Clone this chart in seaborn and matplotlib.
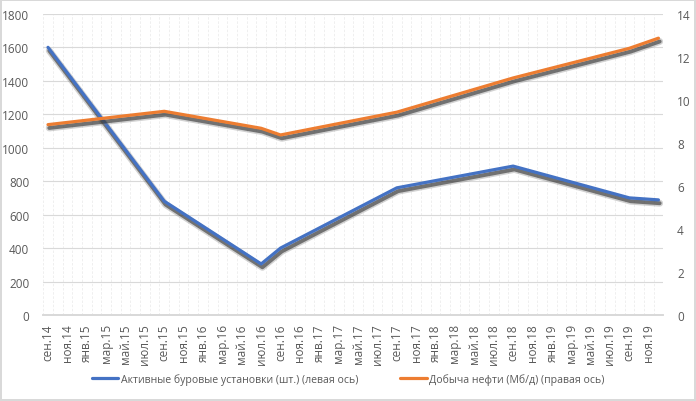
import matplotlib
matplotlib.use("Agg")
import matplotlib.pyplot as plt
import matplotlib.patheffects as pe
import pandas as pd
import seaborn as sns

month_names = ["янв", "фев", "мар", "апр", "май", "июн",
               "июл", "авг", "сен", "окт", "ноя", "дек"]
years = ["14", "15", "16", "17", "18", "19"]
# monthly categories from Sep 2014 to Dec 2019
months = [f"{m}.{y}" for y in years for m in month_names][8:]

rigs_months = ["сен.14", "сен.15", "июл.16", "сен.16", "сен.17", "сен.18", "сен.19", "дек.19"]
rigs = [1600, 680, 305, 400, 760, 890, 700, 688]

oil_months = ["сен.14", "сен.15", "июл.16", "сен.16", "сен.17", "сен.18", "сен.19", "дек.19"]
oil = [8.85, 9.47, 8.68, 8.37, 9.43, 11.02, 12.40, 12.87]

rigs_label = "Активные буровые установки (шт.) (левая ось)"
oil_label = "Добыча нефти (Мб/д) (правая ось)"

BLUE = "#4472C4"
ORANGE = "#ED7D31"
TEXT = "#595959"
GRID = "#d9d9d9"

sns.set_theme(style="white")
plt.rcParams["font.family"] = ["Open Sans", "DejaVu Sans"]

rigs_df = pd.DataFrame({"x": [months.index(m) for m in rigs_months], "y": rigs})
oil_df = pd.DataFrame({"x": [months.index(m) for m in oil_months], "y": oil})

fig = plt.figure(figsize=(6.96, 4.02), dpi=100)
fig.patch.set_edgecolor(GRID)
fig.patch.set_linewidth(1.5)
ax = fig.add_axes([0.062, 0.214, 0.891, 0.749])
ax2 = ax.twinx()

# soft grey drop shadow like the Excel original
shadow = [pe.SimpleLineShadow(offset=(0.9, -2.4), shadow_color="#808080", alpha=0.35, linewidth=5),
          pe.SimpleLineShadow(offset=(0.9, -2.4), shadow_color="#303030", alpha=0.6, linewidth=2.8),
          pe.Normal()]

sns.lineplot(data=rigs_df, x="x", y="y", ax=ax, color=BLUE, linewidth=2.3,
             label=rigs_label, legend=False, path_effects=shadow)
sns.lineplot(data=oil_df, x="x", y="y", ax=ax2, color=ORANGE, linewidth=2.3,
             label=oil_label, legend=False, path_effects=shadow)

n = len(months)
ax.set_xlim(-0.5, n - 0.5)
ax.set_ylim(0, 1800)
ax2.set_ylim(0, 14)
ax.set_yticks(range(0, 1801, 200))
ax2.set_yticks(range(0, 15, 2))

ax.set_xticks(range(0, n, 2))
ax.set_xticklabels(months[::2], rotation=90)
ax.set_xticks([i - 0.5 for i in range(0, n + 1, 2)], minor=True)
ax.tick_params(axis="x", which="major", length=0, pad=6, labelsize=8.5, colors=TEXT)
ax.tick_params(axis="x", which="minor", length=4, width=0.8, color=GRID, direction="out")
ax.tick_params(axis="y", length=0, pad=10, labelsize=8.5, colors=TEXT)
ax2.tick_params(axis="y", length=0, pad=10, labelsize=8.5, colors=TEXT)

# horizontal major grid and faint monthly vertical grid
ax.grid(axis="y", color=GRID, linewidth=0.8)
for i in range(n + 1):
    ax.axvline(i - 0.5, color="#ececec", linewidth=0.6, linestyle=(0, (3, 2)), zorder=0)
ax.set_axisbelow(True)
ax2.grid(False)

for a in (ax, ax2):
    for s in ("top", "left", "right"):
        a.spines[s].set_visible(False)
    a.spines["bottom"].set_color(GRID)
    a.set_xlabel("")
    a.set_ylabel("")

handles = [plt.Line2D([], [], color=BLUE, linewidth=2.3),
           plt.Line2D([], [], color=ORANGE, linewidth=2.3)]
fig.legend(handles, [rigs_label, oil_label], loc="center", bbox_to_anchor=(0.5, 0.055),
           ncol=2, frameon=False, fontsize=7.6, labelcolor=TEXT,
           handlelength=2.5, handletextpad=0.2, columnspacing=4.0)

fig.savefig("out.png", dpi=100, facecolor="white", edgecolor=fig.get_edgecolor())
